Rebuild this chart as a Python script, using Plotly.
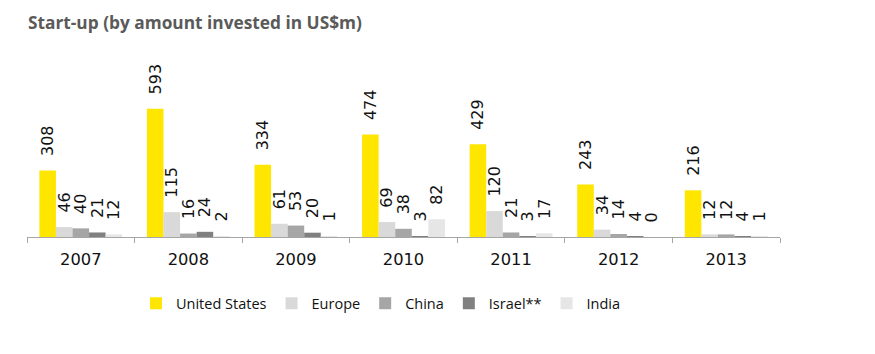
import plotly.graph_objects as go

years = ["2007", "2008", "2009", "2010", "2011", "2012", "2013"]
united_states = [308, 593, 334, 474, 429, 243, 216]
europe = [46, 115, 61, 69, 120, 34, 12]
china = [40, 16, 53, 38, 21, 14, 12]
israel = [21, 24, 20, 3, 3, 4, 4]
india = [12, 2, 1, 82, 17, 0, 1]

series = [
    ("United States", united_states, "#FFE600"),
    ("Europe", europe, "#D9D9D9"),
    ("China", china, "#A6A6A6"),
    ("Israel**", israel, "#808080"),
    ("India", india, "#E6E6E6"),
]

fig = go.Figure()
for name, vals, color in series:
    fig.add_trace(go.Bar(
        name=name, x=years, y=vals,
        marker=dict(color=color, line=dict(width=0)),
        text=vals,
        texttemplate="<span style='font-size:12px'>&nbsp;&nbsp;&nbsp;</span>%{text}",
        textposition="outside",
        textangle=-90,
        constraintext="none",
        cliponaxis=False,
        textfont=dict(family="DejaVu Sans", size=16, color="#111111"),
    ))

fig.update_layout(
    width=875, height=354,
    barmode="group", bargap=0.23, bargroupgap=0,
    plot_bgcolor="white", paper_bgcolor="white",
    margin=dict(l=27, r=95, t=60, b=117),
    title=dict(text="<b>Start-up (by amount invested in US$m)</b>",
               x=28/875, xanchor="left", y=1-23/354, yanchor="middle",
               font=dict(family="Open Sans", size=17.3, color="#5A5A5A")),
    showlegend=True,
    legend=dict(orientation="h", x=(381-27)/753, xanchor="center", y=-0.375, yanchor="middle",
                font=dict(family="Open Sans", size=14.5, color="#111111"),
                itemwidth=30, traceorder="normal"),
    xaxis=dict(showline=True, linecolor="#A6A6A6", linewidth=1,
               ticks="outside", tickson="boundaries", ticklen=5, tickcolor="#A6A6A6",
               ticklabelstandoff=7,
               tickfont=dict(family="DejaVu Sans", size=16.3, color="#111111"),
               showgrid=False),
    yaxis=dict(range=[0, 819], visible=False, showgrid=False),
)

fig.write_html("out.html")
